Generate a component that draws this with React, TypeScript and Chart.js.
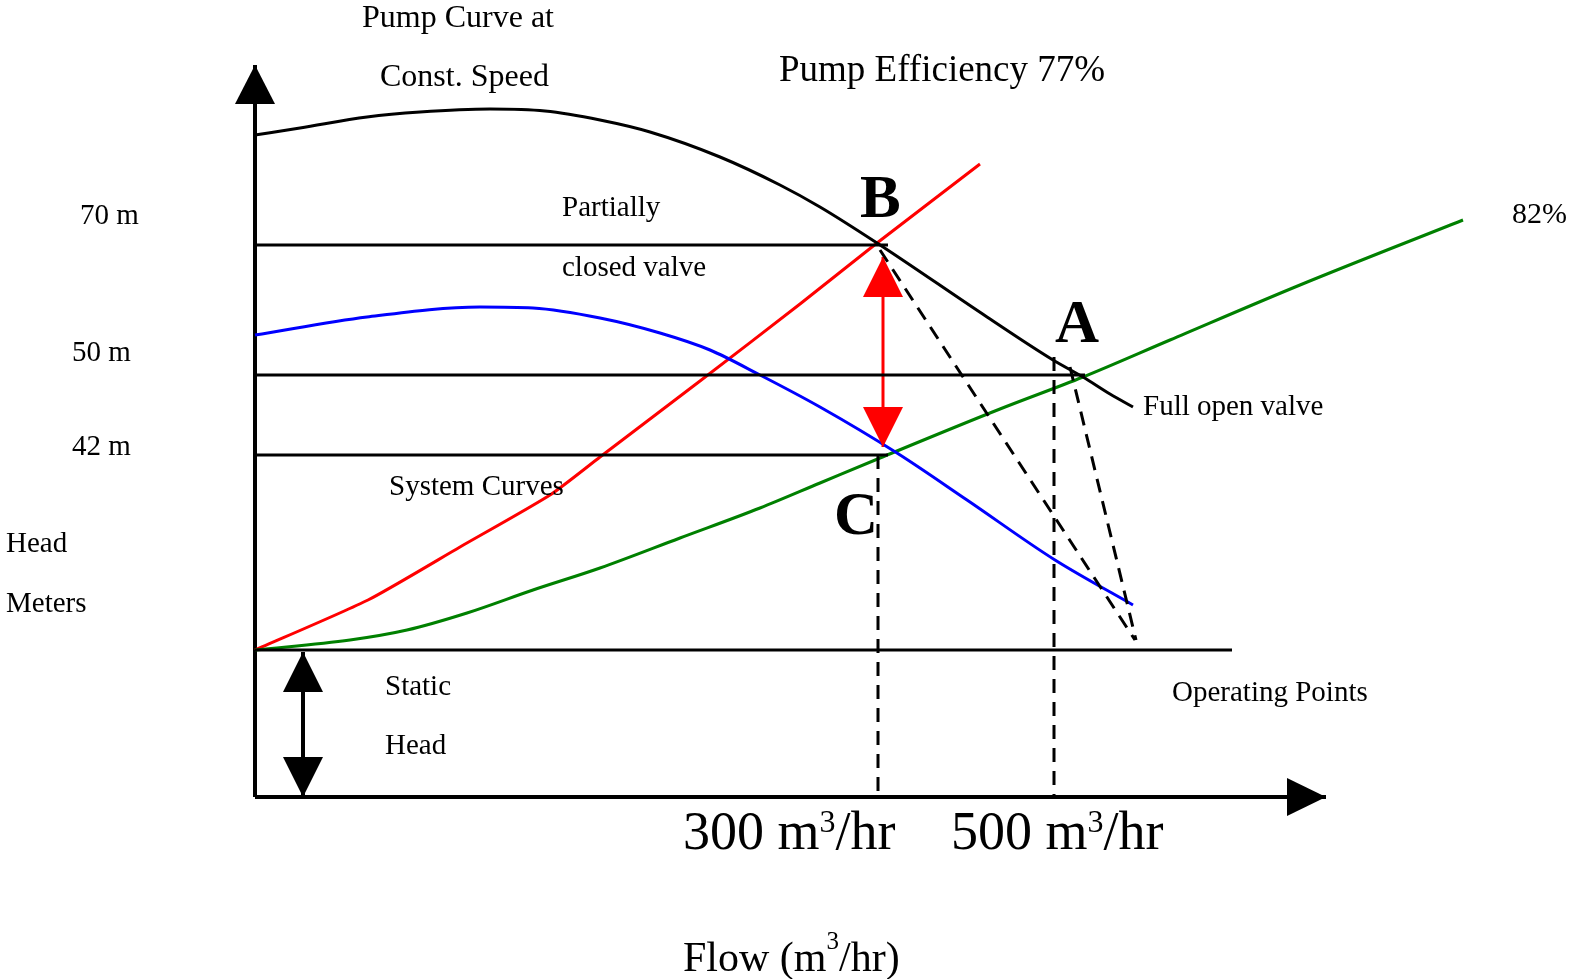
import React, { useEffect, useRef } from "react";
import { Chart, registerables } from "chart.js";

Chart.register(...registerables);

type P = [number, number];

// Schematic coordinates: x = flow position from the head axis, y = head position above the flow axis
const pumpCurveConstSpeed: P[] = [
  [0, 662], [45, 669], [112, 680], [165, 685], [235, 688], [290, 686], [345, 677],
  [395, 665], [465, 640], [525, 612], [565, 590], [622, 554], [732, 480], [798, 437],
  [828, 420], [855, 403], [878, 390],
];
const systemCurvePartiallyClosed: P[] = [
  [0, 147], [113, 197], [205, 250], [295, 302], [345, 340], [445, 416], [545, 493], [622, 554], [725, 633],
];
const systemCurveFullOpen: P[] = [
  [0, 147], [95, 157], [152, 167], [212, 184], [278, 207], [345, 229], [425, 259], [505, 289],
  [565, 314], [625, 339], [745, 388], [828, 420], [915, 457], [1045, 512], [1208, 577],
];
const pumpCurveReduced: P[] = [
  [0, 462], [112, 480], [225, 490], [278, 489], [345, 479], [405, 464], [455, 447], [505, 422],
  [565, 390], [642, 344], [712, 297], [800, 237], [878, 192],
];

const headLevel70: P[] = [[0, 552], [633, 552]];
const headLevel50: P[] = [[0, 422], [830, 422]];
const headLevel42: P[] = [[0, 342], [633, 342]];
const staticHeadLevel: P[] = [[0, 147], [977, 147]];

const flowDrop300: P[] = [[623, 342], [623, 0]];
const flowDrop500: P[] = [[799, 440], [799, 0]];
const operatingPathB: P[] = [[625, 547], [880, 157]];
const operatingPathA: P[] = [[815, 430], [881, 157]];

const headAxis: P[] = [[0, 0], [0, 732]];
const flowAxis: P[] = [[0, 0], [1071, 0]];
const throttleArrow: P[] = [[628, 350], [628, 540]];
const staticHeadArrow: P[] = [[48, 0], [48, 145]];

type Label = { text: string; x: number; y: number; size: number; bold?: boolean; supRaise?: number };
const labels: Label[] = [
  { text: "Pump Curve at", x: 107, y: 778, size: 32 },
  { text: "Const. Speed", x: 125, y: 719, size: 32 },
  { text: "Pump Efficiency 77%", x: 524, y: 726, size: 37 },
  { text: "70 m", x: -175, y: 581, size: 29 },
  { text: "50 m", x: -183, y: 444, size: 29 },
  { text: "42 m", x: -183, y: 350, size: 29 },
  { text: "Head", x: -249, y: 253, size: 29 },
  { text: "Meters", x: -249, y: 193, size: 29 },
  { text: "Partially", x: 307, y: 589, size: 29 },
  { text: "closed valve", x: 307, y: 529, size: 29 },
  { text: "System Curves", x: 134, y: 310, size: 29 },
  { text: "Full open valve", x: 888, y: 390, size: 29 },
  { text: "Static", x: 130, y: 110, size: 29 },
  { text: "Head", x: 130, y: 51, size: 29 },
  { text: "Operating Points", x: 917, y: 104, size: 29 },
  { text: "82%", x: 1257, y: 582, size: 30 },
  { text: "B", x: 605, y: 596, size: 61, bold: true },
  { text: "A", x: 800, y: 471, size: 61, bold: true },
  { text: "C", x: 579, y: 279, size: 61, bold: true },
  { text: "300 m³/hr", x: 428, y: -38, size: 54, supRaise: 0.22 },
  { text: "500 m³/hr", x: 696, y: -38, size: 54, supRaise: 0.22 },
  { text: "Flow (m³/hr)", x: 428, y: -163, size: 42, supRaise: 0.42 },
];

const FONT = "'Liberation Serif', 'Times New Roman', serif";

const toXY = (pts: P[]) => pts.map(([x, y]) => ({ x, y }));

const line = (pts: P[], color: string, width: number, extra: any = {}) => ({
  data: toXY(pts),
  borderColor: color,
  backgroundColor: color,
  borderWidth: width,
  showLine: true,
  pointRadius: 0,
  pointHoverRadius: 0,
  tension: 0,
  fill: false,
  borderCapStyle: "butt",
  borderJoinStyle: "round",
  ...extra,
});

const whiteBg = {
  id: "whiteBg",
  beforeDraw(chart: any) {
    const { ctx, width, height } = chart;
    ctx.save();
    ctx.fillStyle = "#ffffff";
    ctx.fillRect(0, 0, width, height);
    ctx.restore();
  },
};

const arrowHeads = {
  id: "arrowHeads",
  afterDatasetsDraw(chart: any) {
    const ctx = chart.ctx;
    chart.data.datasets.forEach((ds: any, i: number) => {
      const h = ds.arrowHeads;
      if (!h) return;
      const pts = chart.getDatasetMeta(i).data;
      const draw = (tip: any, from: any) => {
        const dx = tip.x - from.x;
        const dy = tip.y - from.y;
        const L = Math.hypot(dx, dy) || 1;
        const ux = dx / L, uy = dy / L;
        const bx = tip.x - ux * h.length, by = tip.y - uy * h.length;
        const px = -uy * h.width / 2, py = ux * h.width / 2;
        ctx.save();
        ctx.fillStyle = ds.borderColor;
        ctx.beginPath();
        ctx.moveTo(tip.x, tip.y);
        ctx.lineTo(bx + px, by + py);
        ctx.lineTo(bx - px, by - py);
        ctx.closePath();
        ctx.fill();
        ctx.restore();
      };
      if (h.end) draw(pts[pts.length - 1], pts[pts.length - 2]);
      if (h.start) draw(pts[0], pts[1]);
    });
  },
};

const textLabels = {
  id: "textLabels",
  afterDraw(chart: any) {
    const ctx = chart.ctx;
    const xs = chart.scales.x, ys = chart.scales.y;
    ctx.save();
    ctx.fillStyle = "#000000";
    ctx.textAlign = "left";
    ctx.textBaseline = "middle";
    labels.forEach((l) => {
      const base = `${l.bold ? "bold " : ""}${l.size}px ${FONT}`;
      let px = xs.getPixelForValue(l.x);
      const py = ys.getPixelForValue(l.y);
      const parts = l.text.split("³");
      parts.forEach((part, idx) => {
        ctx.font = base;
        ctx.fillText(part, px, py);
        px += ctx.measureText(part).width;
        if (idx < parts.length - 1) {
          const s = Math.round(l.size * 0.6);
          ctx.font = `${l.bold ? "bold " : ""}${s}px ${FONT}`;
          ctx.fillText("3", px, py - l.size * (l.supRaise ?? 0.3));
          px += ctx.measureText("3").width;
        }
      });
    });
    ctx.restore();
  },
};

export default function App() {
  const ref = useRef<HTMLCanvasElement>(null);
  useEffect(() => {
    if (!ref.current) return;
    const dash = [14, 9];
    const chart = new Chart(ref.current, {
      type: "scatter",
      data: {
        datasets: [
          line(headLevel70, "#000000", 3),
          line(headLevel50, "#000000", 3),
          line(headLevel42, "#000000", 3),
          line(staticHeadLevel, "#000000", 3),
          line(flowDrop300, "#000000", 3, { borderDash: dash }),
          line(flowDrop500, "#000000", 3, { borderDash: dash }),
          line(operatingPathB, "#000000", 3, { borderDash: dash }),
          line(operatingPathA, "#000000", 3, { borderDash: dash }),
          line(pumpCurveConstSpeed, "#000000", 3, { cubicInterpolationMode: "monotone" }),
          line(pumpCurveReduced, "#0000ff", 3, { cubicInterpolationMode: "monotone" }),
          line(systemCurveFullOpen, "#008000", 3, { cubicInterpolationMode: "monotone" }),
          line(systemCurvePartiallyClosed, "#ff0000", 3, { tension: 0.2 }),
          line(headAxis, "#000000", 4, { arrowHeads: { end: true, length: 39, width: 40 } }),
          line(flowAxis, "#000000", 4, { arrowHeads: { end: true, length: 39, width: 38 } }),
          line(throttleArrow, "#ff0000", 3, { arrowHeads: { start: true, end: true, length: 40, width: 40 } }),
          line(staticHeadArrow, "#000000", 4, { arrowHeads: { start: true, end: true, length: 40, width: 40 } }),
        ] as any,
      },
      options: {
        animation: false,
        responsive: true,
        maintainAspectRatio: false,
        layout: { padding: 0 },
        plugins: { legend: { display: false }, tooltip: { enabled: false } },
        events: [],
        scales: {
          x: { type: "linear", min: -255, max: 1316, display: false },
          y: { type: "linear", min: -182, max: 797, display: false },
        },
      },
      plugins: [whiteBg, arrowHeads, textLabels],
    });
    return () => chart.destroy();
  }, []);
  return (
    <div style={{ position: "absolute", left: 0, top: 0, width: 1571, height: 979 }}>
      <canvas ref={ref} />
    </div>
  );
}
